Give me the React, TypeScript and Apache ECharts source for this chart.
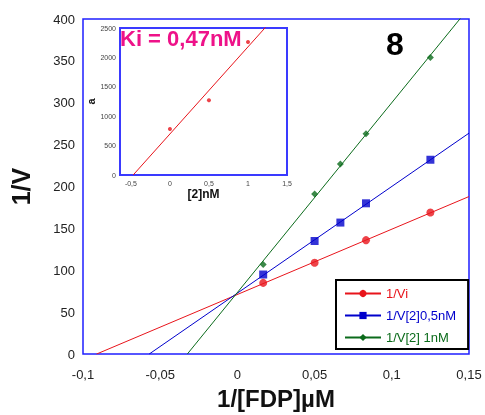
import React, { useEffect, useRef } from "react";
import * as echarts from "echarts";

const FONT = "'Liberation Sans', Arial, Helvetica, sans-serif";

// Main chart data (1/[FDP] µM vs 1/V)
const redX = [0.0167, 0.05, 0.0833, 0.125];
const redY = [85, 109, 136, 169];
const blueX = [0.0167, 0.05, 0.0667, 0.0833, 0.125];
const blueY = [95, 135, 157, 180, 232];
const greenX = [0.0167, 0.05, 0.0667, 0.0833, 0.125];
const greenY = [107, 191, 227, 263, 354];
const seriesNames = ["1/Vi", "1/V[2]0,5nM", "1/V[2] 1nM"];

// Inset data ([2] nM vs a)
const insetX = [0, 0.5, 1];
const insetY = [781, 1273, 2262];
const insetXTicks = [-0.5, 0, 0.5, 1, 1.5];

const RED = "#e8141b";
const BLUE = "#0000cc";
const GREEN = "#0b6b1b";
const FRAME = "#1f1fff";

function fit(xs: number[], ys: number[]) {
  const n = xs.length;
  const mx = xs.reduce((a, b) => a + b, 0) / n;
  const my = ys.reduce((a, b) => a + b, 0) / n;
  let sxy = 0;
  let sxx = 0;
  for (let i = 0; i < n; i++) {
    sxy += (xs[i] - mx) * (ys[i] - my);
    sxx += (xs[i] - mx) * (xs[i] - mx);
  }
  const m = sxy / sxx;
  return { m, b: my - m * mx };
}

function lineData(xs: number[], ys: number[], xmax: number) {
  const { m, b } = fit(xs, ys);
  return [
    [-b / m, 0],
    [xmax, m * xmax + b],
  ];
}

const comma = (v: number) => String(+v.toFixed(4)).replace(".", ",");

export default function App() {
  const ref = useRef<HTMLDivElement>(null);
  useEffect(() => {
    if (!ref.current) return;
    const chart = echarts.init(ref.current, null, { renderer: "svg" });
    const zip = (xs: number[], ys: number[]) => xs.map((x, i) => [x, ys[i]]);
    const groups = [
      { x: redX, y: redY, color: RED, symbol: "circle", size: 8 },
      { x: blueX, y: blueY, color: BLUE, symbol: "rect", size: 8 },
      { x: greenX, y: greenY, color: GREEN, symbol: "diamond", size: 7 },
    ];
    const series: any[] = [];
    groups.forEach((g, i) => {
      series.push({
        type: "line",
        name: seriesNames[i],
        xAxisIndex: 0,
        yAxisIndex: 0,
        data: lineData(g.x, g.y, 0.15),
        showSymbol: false,
        symbol: g.symbol,
        symbolSize: g.size,
        lineStyle: { color: g.color, width: 1 },
        itemStyle: { color: g.color },
        clip: true,
        silent: true,
      });
      series.push({
        type: "scatter",
        name: "pts" + i,
        xAxisIndex: 0,
        yAxisIndex: 0,
        data: zip(g.x, g.y),
        symbol: g.symbol,
        symbolSize: g.size,
        itemStyle: { color: g.color },
        z: 3,
      });
    });
    series.push({
      type: "line",
      name: "insetLine",
      xAxisIndex: 1,
      yAxisIndex: 1,
      data: lineData(insetX, insetY, 1.5),
      showSymbol: false,
      lineStyle: { color: RED, width: 1 },
      clip: true,
      z: 4,
    });
    series.push({
      type: "scatter",
      name: "insetPts",
      xAxisIndex: 1,
      yAxisIndex: 1,
      data: zip(insetX, insetY),
      symbol: "circle",
      symbolSize: 4,
      itemStyle: { color: RED },
      z: 4,
    });

    chart.setOption({
      animation: false,
      textStyle: { fontFamily: FONT },
      grid: [
        {
          left: 82,
          top: 19,
          right: 16,
          bottom: 56,
          show: true,
          borderColor: FRAME,
          borderWidth: 1.5,
          backgroundColor: "#fff",
        },
        {
          left: 120,
          top: 28,
          width: 167,
          height: 147,
          show: true,
          borderColor: "#3a3aff",
          borderWidth: 2,
          backgroundColor: "#fff",
        },
      ],
      xAxis: [
        {
          type: "value",
          gridIndex: 0,
          min: -0.1,
          max: 0.15,
          interval: 0.05,
          axisLine: { show: false },
          axisTick: { show: false },
          splitLine: { show: false },
          axisLabel: {
            formatter: comma,
            fontSize: 13,
            color: "#222",
            margin: 14,
            fontFamily: FONT,
          },
          name: "1/[FDP]µM",
          nameLocation: "middle",
          nameGap: 29,
          nameTextStyle: {
            fontSize: 24,
            fontWeight: "bold",
            color: "#111",
            fontFamily: FONT,
          },
        },
        {
          type: "value",
          gridIndex: 1,
          min: -0.64,
          max: 1.5,
          axisLine: { show: false },
          axisTick: { show: false },
          splitLine: { show: false },
          axisLabel: {
            customValues: insetXTicks,
            formatter: comma,
            fontSize: 7,
            color: "#444",
            margin: 5,
            fontFamily: FONT,
          },
          name: "[2]nM",
          nameLocation: "middle",
          nameGap: 12,
          nameTextStyle: {
            fontSize: 12,
            fontWeight: "bold",
            color: "#111",
            fontFamily: FONT,
          },
        },
      ],
      yAxis: [
        {
          type: "value",
          gridIndex: 0,
          min: 0,
          max: 400,
          interval: 50,
          axisLine: { show: false },
          axisTick: { show: false },
          splitLine: { show: false },
          axisLabel: {
            fontSize: 13,
            color: "#222",
            margin: 8,
            fontFamily: FONT,
          },
          name: "1/V",
          nameLocation: "middle",
          nameGap: 50,
          nameRotate: 90,
          nameTextStyle: {
            fontSize: 25,
            fontWeight: "bold",
            color: "#111",
            fontFamily: FONT,
          },
        },
        {
          type: "value",
          gridIndex: 1,
          min: 0,
          max: 2500,
          interval: 500,
          axisLine: { show: false },
          axisTick: { show: false },
          splitLine: { show: false },
          axisLabel: {
            formatter: (v: number) => String(v),
            fontSize: 7,
            color: "#444",
            margin: 4,
            fontFamily: FONT,
          },
          name: "a",
          nameLocation: "middle",
          nameGap: 16,
          nameRotate: 90,
          nameTextStyle: {
            fontSize: 11,
            fontWeight: "bold",
            color: "#111",
            fontFamily: FONT,
          },
        },
      ],
      legend: {
        orient: "vertical",
        left: 336,
        top: 280,
        data: [
          { name: seriesNames[0], textStyle: { color: RED } },
          { name: seriesNames[1], textStyle: { color: BLUE } },
          { name: seriesNames[2], textStyle: { color: GREEN } },
        ],
        itemWidth: 36,
        itemHeight: 9,
        itemGap: 9,
        padding: [7, 12, 5, 8],
        borderColor: "#000",
        borderWidth: 2,
        backgroundColor: "#fff",
        selectedMode: false,
        textStyle: { fontSize: 13, fontFamily: FONT },
      },
      graphic: [
        {
          type: "text",
          left: 120,
          top: 27,
          z: 100,
          style: {
            text: "Ki = 0,47nM",
            fill: "#ee1289",
            font: `bold 22px ${FONT}`,
          },
        },
        {
          type: "text",
          x: 395,
          y: 44,
          z: 100,
          style: {
            text: "8",
            fill: "#000",
            font: `bold 32px ${FONT}`,
            align: "center",
            verticalAlign: "middle",
          },
        },
      ],
      series,
    });
    return () => chart.dispose();
  }, []);
  return (
    <div
      ref={ref}
      style={{ position: "fixed", left: 0, top: 0, width: 485, height: 415 }}
    />
  );
}
